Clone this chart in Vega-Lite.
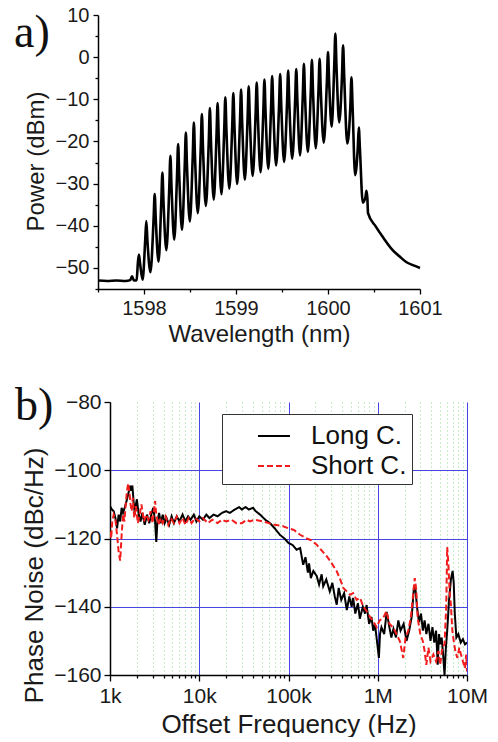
{
  "$schema": "https://vega.github.io/schema/vega-lite/v6.json",
  "background": "white",
  "padding": {"left": 14, "top": 5, "right": 0, "bottom": 0},
  "spacing": 37,
  "resolve": {"legend": {"color": "independent", "strokeDash": "independent"}},
  "config": {
    "view": {"stroke": null},
    "font": "Liberation Sans",
    "axis": {
      "domainColor": "black", "domainWidth": 1.5, "tickColor": "black", "tickWidth": 1.3,
      "labelColor": "#1a1a1a", "titleColor": "#1a1a1a", "titleFontWeight": "normal",
      "labelFont": "Liberation Sans", "titleFont": "Liberation Sans", "grid": false, "labelOverlap": false
    }
  },
  "datasets": {
    "spectrum": [
      {"wl":1597.50,"dbm":-53.0},{"wl":1597.60,"dbm":-53.1},{"wl":1597.70,"dbm":-53.0},{"wl":1597.80,"dbm":-53.1},
      {"wl":1597.85,"dbm":-52.9},{"wl":1597.87,"dbm":-52.0},{"wl":1597.89,"dbm":-53.0},{"wl":1597.92,"dbm":-52.9},
      {"wl":1597.933,"dbm":-48.9},{"wl":1597.945,"dbm":-46.8},{"wl":1597.957,"dbm":-48.9},{"wl":1597.985,"dbm":-52.8},
      {"wl":1598.013,"dbm":-43.5},{"wl":1598.025,"dbm":-38.9},{"wl":1598.037,"dbm":-43.5},{"wl":1598.070,"dbm":-51.0},
      {"wl":1598.104,"dbm":-38.5},{"wl":1598.116,"dbm":-32.5},{"wl":1598.128,"dbm":-38.5},{"wl":1598.158,"dbm":-48.5},
      {"wl":1598.188,"dbm":-34.3},{"wl":1598.200,"dbm":-27.4},{"wl":1598.212,"dbm":-34.3},{"wl":1598.243,"dbm":-45.8},
      {"wl":1598.275,"dbm":-30.8},{"wl":1598.287,"dbm":-23.4},{"wl":1598.299,"dbm":-30.8},{"wl":1598.329,"dbm":-43.3},
      {"wl":1598.359,"dbm":-28.1},{"wl":1598.371,"dbm":-20.6},{"wl":1598.383,"dbm":-28.1},{"wl":1598.413,"dbm":-41.0},
      {"wl":1598.443,"dbm":-25.6},{"wl":1598.455,"dbm":-17.9},{"wl":1598.467,"dbm":-25.6},{"wl":1598.498,"dbm":-39.0},
      {"wl":1598.530,"dbm":-23.4},{"wl":1598.542,"dbm":-15.5},{"wl":1598.554,"dbm":-23.4},{"wl":1598.585,"dbm":-37.0},
      {"wl":1598.617,"dbm":-21.4},{"wl":1598.629,"dbm":-13.5},{"wl":1598.641,"dbm":-21.4},{"wl":1598.672,"dbm":-35.3},
      {"wl":1598.704,"dbm":-20.0},{"wl":1598.716,"dbm":-12.1},{"wl":1598.728,"dbm":-20.0},{"wl":1598.758,"dbm":-33.8},
      {"wl":1598.788,"dbm":-18.7},{"wl":1598.800,"dbm":-10.9},{"wl":1598.812,"dbm":-18.7},{"wl":1598.842,"dbm":-32.5},
      {"wl":1598.872,"dbm":-17.3},{"wl":1598.884,"dbm":-9.5},{"wl":1598.896,"dbm":-17.3},{"wl":1598.927,"dbm":-31.2},
      {"wl":1598.959,"dbm":-16.3},{"wl":1598.971,"dbm":-8.5},{"wl":1598.983,"dbm":-16.3},{"wl":1599.013,"dbm":-30.1},
      {"wl":1599.043,"dbm":-15.4},{"wl":1599.055,"dbm":-7.7},{"wl":1599.067,"dbm":-15.4},{"wl":1599.096,"dbm":-29.1},
      {"wl":1599.126,"dbm":-14.5},{"wl":1599.138,"dbm":-6.9},{"wl":1599.150,"dbm":-14.5},{"wl":1599.181,"dbm":-28.2},
      {"wl":1599.213,"dbm":-13.6},{"wl":1599.225,"dbm":-6.0},{"wl":1599.237,"dbm":-13.6},{"wl":1599.267,"dbm":-27.3},
      {"wl":1599.297,"dbm":-12.9},{"wl":1599.309,"dbm":-5.3},{"wl":1599.321,"dbm":-12.9},{"wl":1599.351,"dbm":-26.5},
      {"wl":1599.381,"dbm":-12.1},{"wl":1599.393,"dbm":-4.5},{"wl":1599.405,"dbm":-12.1},{"wl":1599.436,"dbm":-25.7},
      {"wl":1599.468,"dbm":-11.5},{"wl":1599.480,"dbm":-4.0},{"wl":1599.492,"dbm":-11.5},{"wl":1599.523,"dbm":-24.9},
      {"wl":1599.555,"dbm":-10.7},{"wl":1599.567,"dbm":-3.2},{"wl":1599.579,"dbm":-10.7},{"wl":1599.611,"dbm":-24.1},
      {"wl":1599.643,"dbm":-10.1},{"wl":1599.655,"dbm":-2.8},{"wl":1599.667,"dbm":-10.1},{"wl":1599.696,"dbm":-23.3},
      {"wl":1599.726,"dbm":-9.1},{"wl":1599.738,"dbm":-1.6},{"wl":1599.750,"dbm":-9.1},{"wl":1599.781,"dbm":-22.5},
      {"wl":1599.813,"dbm":-8.1},{"wl":1599.825,"dbm":-0.6},{"wl":1599.837,"dbm":-8.1},{"wl":1599.867,"dbm":-21.6},
      {"wl":1599.897,"dbm":-7.6},{"wl":1599.909,"dbm":-0.4},{"wl":1599.921,"dbm":-7.6},{"wl":1599.954,"dbm":-20.3},
      {"wl":1599.988,"dbm":-5.7},{"wl":1600.000,"dbm":1.2},{"wl":1600.012,"dbm":-5.7},{"wl":1600.040,"dbm":-16.5},
      {"wl":1600.068,"dbm":-2.0},{"wl":1600.080,"dbm":5.6},{"wl":1600.092,"dbm":-2.0},{"wl":1600.122,"dbm":-15.5},
      {"wl":1600.152,"dbm":-4.5},{"wl":1600.164,"dbm":2.8},{"wl":1600.176,"dbm":-4.5},{"wl":1600.210,"dbm":-20.5},
      {"wl":1600.243,"dbm":-11.6},{"wl":1600.255,"dbm":-4.8},{"wl":1600.267,"dbm":-11.6},{"wl":1600.295,"dbm":-28.0},
      {"wl":1600.323,"dbm":-21.8},{"wl":1600.335,"dbm":-16.7},{"wl":1600.347,"dbm":-21.8},{"wl":1600.378,"dbm":-34.5},
      {"wl":1600.408,"dbm":-33.1},{"wl":1600.418,"dbm":-31.7},{"wl":1600.428,"dbm":-33.5},{"wl":1600.435,"dbm":-37.0},
      {"wl":1600.52,"dbm":-40.2},{"wl":1600.60,"dbm":-42.8},{"wl":1600.70,"dbm":-45.7},{"wl":1600.78,"dbm":-47.3},
      {"wl":1600.85,"dbm":-48.6},{"wl":1600.93,"dbm":-49.4},{"wl":1601.00,"dbm":-50.0}
    ],
    "noise": [
      {"f":1000,"pn":-110.5,"s":"Long C."},{"f":1050,"pn":-111.5,"s":"Long C."},{"f":1100,"pn":-112,"s":"Long C."},{"f":1150,"pn":-114,"s":"Long C."},
      {"f":1200,"pn":-117,"s":"Long C."},{"f":1250,"pn":-113,"s":"Long C."},{"f":1300,"pn":-115,"s":"Long C."},{"f":1350,"pn":-111,"s":"Long C."},
      {"f":1400,"pn":-112.5,"s":"Long C."},{"f":1500,"pn":-110,"s":"Long C."},{"f":1600,"pn":-107,"s":"Long C."},{"f":1680,"pn":-104.5,"s":"Long C."},
      {"f":1720,"pn":-106,"s":"Long C."},{"f":1780,"pn":-104.5,"s":"Long C."},{"f":1850,"pn":-110,"s":"Long C."},{"f":1900,"pn":-113,"s":"Long C."},
      {"f":1950,"pn":-110,"s":"Long C."},{"f":2000,"pn":-108.5,"s":"Long C."},{"f":2100,"pn":-113,"s":"Long C."},{"f":2200,"pn":-115,"s":"Long C."},
      {"f":2300,"pn":-112.5,"s":"Long C."},{"f":2450,"pn":-116,"s":"Long C."},{"f":2600,"pn":-113,"s":"Long C."},{"f":2750,"pn":-115.5,"s":"Long C."},
      {"f":2900,"pn":-113,"s":"Long C."},{"f":3050,"pn":-111,"s":"Long C."},{"f":3200,"pn":-115,"s":"Long C."},{"f":3300,"pn":-121,"s":"Long C."},
      {"f":3400,"pn":-115,"s":"Long C."},{"f":3550,"pn":-112.5,"s":"Long C."},{"f":3700,"pn":-115.5,"s":"Long C."},{"f":3900,"pn":-113,"s":"Long C."},
      {"f":4100,"pn":-115.5,"s":"Long C."},{"f":4300,"pn":-114,"s":"Long C."},{"f":4600,"pn":-116,"s":"Long C."},{"f":4900,"pn":-113.5,"s":"Long C."},
      {"f":5200,"pn":-115.5,"s":"Long C."},{"f":5600,"pn":-113.5,"s":"Long C."},{"f":6000,"pn":-115,"s":"Long C."},{"f":6500,"pn":-113,"s":"Long C."},
      {"f":7000,"pn":-115,"s":"Long C."},{"f":7500,"pn":-113.5,"s":"Long C."},{"f":8000,"pn":-114.5,"s":"Long C."},{"f":8700,"pn":-113,"s":"Long C."},
      {"f":9300,"pn":-115,"s":"Long C."},{"f":10000,"pn":-113.5,"s":"Long C."},{"f":11000,"pn":-114.5,"s":"Long C."},{"f":12000,"pn":-113,"s":"Long C."},
      {"f":13000,"pn":-114,"s":"Long C."},{"f":14500,"pn":-113,"s":"Long C."},{"f":16000,"pn":-113.5,"s":"Long C."},{"f":18000,"pn":-112.5,"s":"Long C."},
      {"f":20000,"pn":-112,"s":"Long C."},{"f":22000,"pn":-112.5,"s":"Long C."},{"f":25000,"pn":-111.5,"s":"Long C."},{"f":28000,"pn":-110.8,"s":"Long C."},
      {"f":30000,"pn":-111.5,"s":"Long C."},{"f":33000,"pn":-110.8,"s":"Long C."},{"f":36000,"pn":-111.5,"s":"Long C."},{"f":40000,"pn":-111,"s":"Long C."},
      {"f":43000,"pn":-112,"s":"Long C."},{"f":48000,"pn":-113,"s":"Long C."},{"f":55000,"pn":-114.5,"s":"Long C."},{"f":62000,"pn":-115.5,"s":"Long C."},
      {"f":70000,"pn":-117,"s":"Long C."},{"f":80000,"pn":-118.9,"s":"Long C."},{"f":90000,"pn":-120,"s":"Long C."},{"f":100000,"pn":-121.3,"s":"Long C."},
      {"f":112000,"pn":-122,"s":"Long C."},{"f":123000,"pn":-123.3,"s":"Long C."},{"f":135000,"pn":-122.8,"s":"Long C."},{"f":146000,"pn":-127.7,"s":"Long C."},
      {"f":155000,"pn":-125.5,"s":"Long C."},{"f":165000,"pn":-130,"s":"Long C."},{"f":170000,"pn":-127.3,"s":"Long C."},{"f":178000,"pn":-131.6,"s":"Long C."},
      {"f":190000,"pn":-129.5,"s":"Long C."},{"f":207000,"pn":-131,"s":"Long C."},{"f":220000,"pn":-133.5,"s":"Long C."},{"f":235000,"pn":-130.5,"s":"Long C."},
      {"f":245000,"pn":-134,"s":"Long C."},{"f":265000,"pn":-132,"s":"Long C."},{"f":290000,"pn":-135.5,"s":"Long C."},{"f":310000,"pn":-133,"s":"Long C."},
      {"f":330000,"pn":-137,"s":"Long C."},{"f":347000,"pn":-139.4,"s":"Long C."},{"f":365000,"pn":-134.5,"s":"Long C."},{"f":390000,"pn":-138,"s":"Long C."},
      {"f":420000,"pn":-136,"s":"Long C."},{"f":450000,"pn":-141,"s":"Long C."},{"f":480000,"pn":-137,"s":"Long C."},{"f":510000,"pn":-140,"s":"Long C."},
      {"f":530000,"pn":-137.4,"s":"Long C."},{"f":560000,"pn":-142,"s":"Long C."},{"f":600000,"pn":-139,"s":"Long C."},{"f":630000,"pn":-143.5,"s":"Long C."},
      {"f":680000,"pn":-140,"s":"Long C."},{"f":720000,"pn":-142,"s":"Long C."},{"f":750000,"pn":-139.5,"s":"Long C."},{"f":800000,"pn":-145,"s":"Long C."},
      {"f":850000,"pn":-143,"s":"Long C."},{"f":890000,"pn":-147,"s":"Long C."},{"f":930000,"pn":-145,"s":"Long C."},{"f":980000,"pn":-150,"s":"Long C."},
      {"f":1030000,"pn":-155,"s":"Long C."},{"f":1060000,"pn":-148,"s":"Long C."},{"f":1100000,"pn":-146,"s":"Long C."},{"f":1180000,"pn":-148,"s":"Long C."},
      {"f":1260000,"pn":-141.5,"s":"Long C."},{"f":1350000,"pn":-146,"s":"Long C."},{"f":1420000,"pn":-149,"s":"Long C."},{"f":1500000,"pn":-146.5,"s":"Long C."},
      {"f":1600000,"pn":-149,"s":"Long C."},{"f":1700000,"pn":-144,"s":"Long C."},{"f":1800000,"pn":-147,"s":"Long C."},{"f":1950000,"pn":-145,"s":"Long C."},
      {"f":2100000,"pn":-150,"s":"Long C."},{"f":2250000,"pn":-147,"s":"Long C."},{"f":2400000,"pn":-143,"s":"Long C."},{"f":2550000,"pn":-134,"s":"Long C."},
      {"f":2650000,"pn":-135,"s":"Long C."},{"f":2750000,"pn":-140,"s":"Long C."},{"f":2900000,"pn":-144.5,"s":"Long C."},{"f":3050000,"pn":-142,"s":"Long C."},
      {"f":3200000,"pn":-147,"s":"Long C."},{"f":3350000,"pn":-144,"s":"Long C."},{"f":3500000,"pn":-148,"s":"Long C."},{"f":3700000,"pn":-145,"s":"Long C."},
      {"f":3900000,"pn":-150,"s":"Long C."},{"f":4100000,"pn":-146,"s":"Long C."},{"f":4300000,"pn":-150.5,"s":"Long C."},{"f":4500000,"pn":-147,"s":"Long C."},
      {"f":4700000,"pn":-157,"s":"Long C."},{"f":4850000,"pn":-148,"s":"Long C."},{"f":5000000,"pn":-151,"s":"Long C."},{"f":5200000,"pn":-149,"s":"Long C."},
      {"f":5400000,"pn":-154,"s":"Long C."},{"f":5600000,"pn":-160,"s":"Long C."},{"f":5800000,"pn":-152,"s":"Long C."},{"f":6000000,"pn":-147,"s":"Long C."},
      {"f":6300000,"pn":-138,"s":"Long C."},{"f":6600000,"pn":-132,"s":"Long C."},{"f":6900000,"pn":-129.5,"s":"Long C."},{"f":7100000,"pn":-133,"s":"Long C."},
      {"f":7300000,"pn":-142,"s":"Long C."},{"f":7600000,"pn":-149,"s":"Long C."},{"f":8000000,"pn":-148,"s":"Long C."},{"f":8500000,"pn":-150.5,"s":"Long C."},
      {"f":9000000,"pn":-149.5,"s":"Long C."},{"f":9500000,"pn":-151,"s":"Long C."},{"f":10000000,"pn":-150.5,"s":"Long C."},
      {"f":1000,"pn":-118,"s":"Short C."},{"f":1030,"pn":-120,"s":"Short C."},{"f":1060,"pn":-115,"s":"Short C."},{"f":1100,"pn":-113,"s":"Short C."},
      {"f":1150,"pn":-114.5,"s":"Short C."},{"f":1200,"pn":-119,"s":"Short C."},{"f":1250,"pn":-124,"s":"Short C."},{"f":1300,"pn":-126.5,"s":"Short C."},
      {"f":1350,"pn":-119,"s":"Short C."},{"f":1400,"pn":-113,"s":"Short C."},{"f":1450,"pn":-115,"s":"Short C."},{"f":1500,"pn":-110,"s":"Short C."},
      {"f":1550,"pn":-106,"s":"Short C."},{"f":1600,"pn":-103.8,"s":"Short C."},{"f":1650,"pn":-106.5,"s":"Short C."},{"f":1700,"pn":-110,"s":"Short C."},
      {"f":1750,"pn":-112,"s":"Short C."},{"f":1800,"pn":-108,"s":"Short C."},{"f":1870,"pn":-114,"s":"Short C."},{"f":1950,"pn":-110.5,"s":"Short C."},
      {"f":2050,"pn":-115.5,"s":"Short C."},{"f":2150,"pn":-113,"s":"Short C."},{"f":2250,"pn":-110,"s":"Short C."},{"f":2400,"pn":-115,"s":"Short C."},
      {"f":2550,"pn":-113,"s":"Short C."},{"f":2700,"pn":-114.5,"s":"Short C."},{"f":2850,"pn":-112,"s":"Short C."},{"f":3000,"pn":-115.5,"s":"Short C."},
      {"f":3200,"pn":-109,"s":"Short C."},{"f":3300,"pn":-113,"s":"Short C."},{"f":3500,"pn":-116,"s":"Short C."},{"f":3700,"pn":-114,"s":"Short C."},
      {"f":3900,"pn":-115.5,"s":"Short C."},{"f":4200,"pn":-113.5,"s":"Short C."},{"f":4500,"pn":-116,"s":"Short C."},{"f":4800,"pn":-114,"s":"Short C."},
      {"f":5200,"pn":-115.5,"s":"Short C."},{"f":5600,"pn":-113.5,"s":"Short C."},{"f":6000,"pn":-115.5,"s":"Short C."},{"f":6500,"pn":-114,"s":"Short C."},
      {"f":7000,"pn":-116,"s":"Short C."},{"f":7600,"pn":-114,"s":"Short C."},{"f":8200,"pn":-115.5,"s":"Short C."},{"f":9000,"pn":-114,"s":"Short C."},
      {"f":10000,"pn":-115,"s":"Short C."},{"f":11000,"pn":-114,"s":"Short C."},{"f":12500,"pn":-115.5,"s":"Short C."},{"f":14000,"pn":-114.5,"s":"Short C."},
      {"f":16000,"pn":-115.5,"s":"Short C."},{"f":18000,"pn":-114.5,"s":"Short C."},{"f":20000,"pn":-115,"s":"Short C."},{"f":23000,"pn":-114.5,"s":"Short C."},
      {"f":26000,"pn":-115.5,"s":"Short C."},{"f":30000,"pn":-115.5,"s":"Short C."},{"f":34000,"pn":-114.5,"s":"Short C."},{"f":37000,"pn":-115,"s":"Short C."},
      {"f":42000,"pn":-114.5,"s":"Short C."},{"f":52000,"pn":-115,"s":"Short C."},{"f":60000,"pn":-115.5,"s":"Short C."},{"f":70000,"pn":-116,"s":"Short C."},
      {"f":87000,"pn":-116.4,"s":"Short C."},{"f":100000,"pn":-117,"s":"Short C."},{"f":115000,"pn":-117.5,"s":"Short C."},{"f":135000,"pn":-118.9,"s":"Short C."},
      {"f":160000,"pn":-120,"s":"Short C."},{"f":180000,"pn":-120.5,"s":"Short C."},{"f":207000,"pn":-121.8,"s":"Short C."},{"f":235000,"pn":-123.5,"s":"Short C."},
      {"f":268000,"pn":-125.2,"s":"Short C."},{"f":300000,"pn":-127,"s":"Short C."},{"f":347000,"pn":-129.6,"s":"Short C."},{"f":380000,"pn":-132,"s":"Short C."},
      {"f":411000,"pn":-134.5,"s":"Short C."},{"f":450000,"pn":-135.5,"s":"Short C."},{"f":489000,"pn":-136.5,"s":"Short C."},{"f":530000,"pn":-136,"s":"Short C."},
      {"f":580000,"pn":-138,"s":"Short C."},{"f":632000,"pn":-137.4,"s":"Short C."},{"f":690000,"pn":-140,"s":"Short C."},{"f":752000,"pn":-141.3,"s":"Short C."},
      {"f":820000,"pn":-143,"s":"Short C."},{"f":900000,"pn":-144.5,"s":"Short C."},{"f":973000,"pn":-146,"s":"Short C."},{"f":1050000,"pn":-144,"s":"Short C."},
      {"f":1150000,"pn":-143.3,"s":"Short C."},{"f":1250000,"pn":-141.3,"s":"Short C."},{"f":1350000,"pn":-145,"s":"Short C."},{"f":1500000,"pn":-146.2,"s":"Short C."},
      {"f":1620000,"pn":-148,"s":"Short C."},{"f":1770000,"pn":-150.1,"s":"Short C."},{"f":1930000,"pn":-155,"s":"Short C."},{"f":2050000,"pn":-149,"s":"Short C."},
      {"f":2200000,"pn":-147,"s":"Short C."},{"f":2350000,"pn":-143,"s":"Short C."},{"f":2500000,"pn":-136,"s":"Short C."},{"f":2600000,"pn":-131.6,"s":"Short C."},
      {"f":2700000,"pn":-135,"s":"Short C."},{"f":2800000,"pn":-143.3,"s":"Short C."},{"f":3000000,"pn":-148,"s":"Short C."},{"f":3200000,"pn":-150.1,"s":"Short C."},
      {"f":3350000,"pn":-153,"s":"Short C."},{"f":3500000,"pn":-157,"s":"Short C."},{"f":3700000,"pn":-152,"s":"Short C."},{"f":3900000,"pn":-156,"s":"Short C."},
      {"f":4200000,"pn":-154,"s":"Short C."},{"f":4500000,"pn":-156,"s":"Short C."},{"f":4800000,"pn":-153,"s":"Short C."},{"f":5000000,"pn":-157,"s":"Short C."},
      {"f":5300000,"pn":-152,"s":"Short C."},{"f":5600000,"pn":-151,"s":"Short C."},{"f":5850000,"pn":-140,"s":"Short C."},{"f":6000000,"pn":-122.5,"s":"Short C."},
      {"f":6200000,"pn":-128,"s":"Short C."},{"f":6400000,"pn":-136,"s":"Short C."},{"f":6600000,"pn":-139.4,"s":"Short C."},{"f":6850000,"pn":-147,"s":"Short C."},
      {"f":7100000,"pn":-150,"s":"Short C."},{"f":7400000,"pn":-153,"s":"Short C."},{"f":7800000,"pn":-155,"s":"Short C."},{"f":8200000,"pn":-152,"s":"Short C."},
      {"f":8500000,"pn":-153.7,"s":"Short C."},{"f":9000000,"pn":-156,"s":"Short C."},{"f":9500000,"pn":-158,"s":"Short C."},{"f":9800000,"pn":-154,"s":"Short C."},
      {"f":10000000,"pn":-159,"s":"Short C."}
    ]
  },
  "vconcat": [
    {
      "width": 310,
      "height": 274,
      "layer": [
        {
          "data": {"name": "spectrum"},
          "mark": {"type": "line", "color": "black", "strokeWidth": 2.6, "interpolate": "monotone", "clip": false},
          "encoding": {
            "x": {
              "field": "wl", "type": "quantitative",
              "scale": {"domain": [1597.5, 1601], "nice": false, "zero": false, "range": [-12, 310]},
              "axis": {
                "title": "Wavelength (nm)", "labelOverlap": false,
                "values": [1597.5, 1598, 1598.5, 1599, 1599.5, 1600, 1600.5, 1601],
                "labelExpr": "datum.value % 1 === 0 ? format(datum.value, 'd') : ''",
                "tickSize": {"condition": {"test": "datum.value % 1 === 0", "value": 5}, "value": 3},
                "labelFontSize": 20, "titleFontSize": 24, "labelPadding": 4, "titlePadding": 4, "labelFlush": false
              }
            },
            "y": {
              "field": "dbm", "type": "quantitative",
              "scale": {"domain": [-55, 10], "nice": false, "zero": false},
              "axis": {
                "title": "Power (dBm)", "offset": 12, "titleY": 146, "labelOverlap": false,
                "values": [-55, -50, -45, -40, -35, -30, -25, -20, -15, -10, -5, 0, 5, 10],
                "labelExpr": "datum.value % 10 === 0 ? format(datum.value, 'd') : ''",
                "tickSize": {"condition": {"test": "datum.value % 10 === 0", "value": 5}, "value": 3},
                "labelFontSize": 20, "titleFontSize": 24, "labelPadding": 4, "titlePadding": 7, "labelFlush": false
              }
            }
          }
        },
        {
          "data": {"values": [{"label": "a)"}]},
          "mark": {"type": "text", "font": "Liberation Serif", "fontSize": 46, "color": "#111", "align": "left", "baseline": "alphabetic", "dx": -84, "dy": -105},
          "encoding": {
            "text": {"field": "label"},
            "x": {"datum": 1597.5, "type": "quantitative"}
          }
        }
      ]
    },
    {
      "width": 357,
      "height": 273,
      "layer": [
        {
          "data": {"name": "noise"},
          "mark": {"type": "line", "strokeWidth": 2, "clip": true},
          "encoding": {
            "x": {
              "field": "f", "type": "quantitative",
              "scale": {"type": "log", "domain": [1000, 10000000], "nice": false},
              "axis": {
                "title": "Offset Frequency (Hz)", "labelOverlap": false,
                "values": [1000,2000,3000,4000,5000,6000,7000,8000,9000,10000,20000,30000,40000,50000,60000,70000,80000,90000,100000,200000,300000,400000,500000,600000,700000,800000,900000,1000000,2000000,3000000,4000000,5000000,6000000,7000000,8000000,9000000,10000000],
                "labelExpr": "datum.value === 1000 ? '1k' : datum.value === 10000 ? '10k' : datum.value === 100000 ? '100k' : datum.value === 1000000 ? '1M' : datum.value === 10000000 ? '10M' : ''",
                "grid": true,
                "gridColor": {"condition": {"test": "indexof([1000,10000,100000,1000000,10000000], datum.value) >= 0", "value": "#4646e0"}, "value": "#8fd88f"},
                "gridDash": {"condition": {"test": "indexof([1000,10000,100000,1000000,10000000], datum.value) >= 0", "value": []}, "value": [1, 3]},
                "gridWidth": 1,
                "tickSize": {"condition": {"test": "indexof([1000,10000,100000,1000000,10000000], datum.value) >= 0", "value": 6}, "value": 3},
                "labelFontSize": 21, "titleFontSize": 26, "labelPadding": 4, "titlePadding": 5, "labelFlush": false
              }
            },
            "y": {
              "field": "pn", "type": "quantitative",
              "scale": {"domain": [-160, -80], "nice": false, "zero": false},
              "axis": {
                "title": "Phase Noise (dBc/Hz)", "titleY": 173, "labelOverlap": false,
                "values": [-160, -150, -140, -130, -120, -110, -100, -90, -80],
                "labelExpr": "datum.value % 20 === 0 ? format(datum.value, 'd') : ''",
                "grid": true,
                "gridColor": {"condition": {"test": "datum.value % 20 === 0", "value": "#4646e0"}, "value": "#8fd88f"},
                "gridDash": {"condition": {"test": "datum.value % 20 === 0", "value": []}, "value": [1, 3]},
                "gridOpacity": {"condition": {"test": "datum.value === -80 || datum.value === -160", "value": 0}, "value": 1},
                "gridWidth": 1,
                "tickSize": {"condition": {"test": "datum.value % 20 === 0", "value": 6}, "value": 3},
                "labelFontSize": 21, "titleFontSize": 26, "labelPadding": 3, "titlePadding": 6, "labelFlush": false
              }
            },
            "color": {
              "field": "s", "type": "nominal",
              "scale": {"domain": ["Long C.", "Short C."], "range": ["black", "#f21c1c"]},
              "legend": {
                "orient": "none", "legendX": 112, "legendY": 12, "title": null,
                "strokeColor": "#333", "fillColor": "white", "padding": 5,
                "symbolType": "stroke", "symbolSize": 1024, "symbolStrokeWidth": 2,
                "labelFontSize": 26, "labelFont": "Liberation Sans", "labelColor": "#111",
                "labelOffset": 20, "rowPadding": 0, "symbolOffset": 30
              }
            },
            "strokeDash": {
              "field": "s", "type": "nominal",
              "scale": {"domain": ["Long C.", "Short C."], "range": [[1, 0], [6, 3]]},
              "legend": {
                "orient": "none", "legendX": 112, "legendY": 12, "title": null,
                "strokeColor": "#333", "fillColor": "white", "padding": 5,
                "symbolType": "stroke", "symbolSize": 1024, "symbolStrokeWidth": 2,
                "labelFontSize": 26, "labelFont": "Liberation Sans", "labelColor": "#111",
                "labelOffset": 20, "rowPadding": 0, "symbolOffset": 30
              }
            }
          }
        },
        {
          "data": {"values": [{"label": "b)"}]},
          "mark": {"type": "text", "font": "Liberation Serif", "fontSize": 46, "color": "#111", "align": "left", "baseline": "alphabetic", "dx": -95, "dy": 18},
          "encoding": {
            "text": {"field": "label"},
            "x": {"datum": 1000, "type": "quantitative"},
            "y": {"datum": -80, "type": "quantitative"}
          }
        }
      ]
    }
  ]
}
